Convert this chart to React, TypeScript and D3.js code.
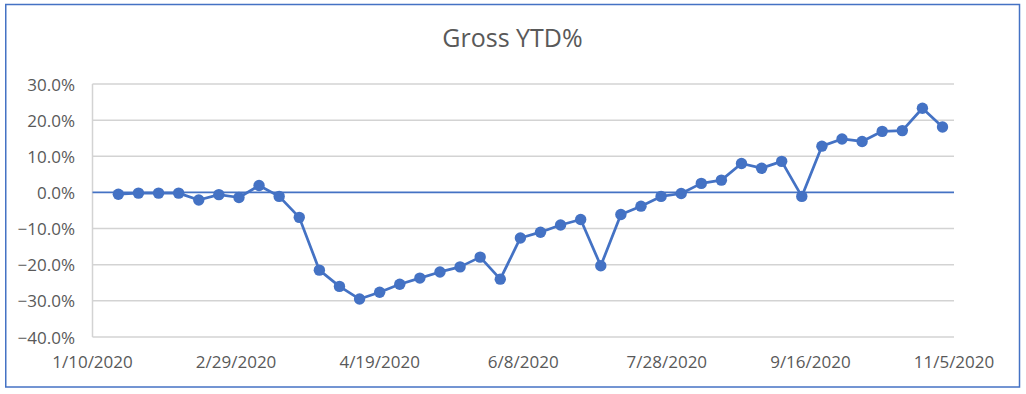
import React from 'react';
import * as d3 from 'd3';

// weekly observations (Sundays)
const dates = [
  '2020-01-19', '2020-01-26', '2020-02-02', '2020-02-09', '2020-02-16', '2020-02-23',
  '2020-03-01', '2020-03-08', '2020-03-15', '2020-03-22', '2020-03-29', '2020-04-05',
  '2020-04-12', '2020-04-19', '2020-04-26', '2020-05-03', '2020-05-10', '2020-05-17',
  '2020-05-24', '2020-05-31', '2020-06-07', '2020-06-14', '2020-06-21', '2020-06-28',
  '2020-07-05', '2020-07-12', '2020-07-19', '2020-07-26', '2020-08-02', '2020-08-09',
  '2020-08-16', '2020-08-23', '2020-08-30', '2020-09-06', '2020-09-13', '2020-09-20',
  '2020-09-27', '2020-10-04', '2020-10-11', '2020-10-18', '2020-10-25', '2020-11-01',
];

const grossYtd = [
  -0.005, -0.002, -0.002, -0.002, -0.021, -0.006, -0.014, 0.019, -0.011, -0.069,
  -0.215, -0.26, -0.295, -0.276, -0.254, -0.237, -0.22, -0.206, -0.179, -0.24,
  -0.126, -0.11, -0.09, -0.075, -0.203, -0.061, -0.038, -0.011, -0.003, 0.025,
  0.034, 0.08, 0.067, 0.086, -0.011, 0.128, 0.148, 0.141, 0.169, 0.171,
  0.233, 0.181,
];

const xTicks = ['2020-01-10', '2020-02-29', '2020-04-19', '2020-06-08', '2020-07-28', '2020-09-16', '2020-11-05'];
const yTicks = [-0.4, -0.3, -0.2, -0.1, 0, 0.1, 0.2, 0.3];

const W = 1026;
const H = 394;
const BLUE = '#4472C4';
const GREY_TEXT = '#595959';
const FONT = '"Open Sans", sans-serif';

const parse = d3.utcParse('%Y-%m-%d');
const fmtDate = (d: Date) => `${d.getUTCMonth() + 1}/${d.getUTCDate()}/${d.getUTCFullYear()}`;
const fmtPct = d3.format('.1%');

export default function App() {
  const x = d3
    .scaleUtc()
    .domain([parse(xTicks[0])!, parse(xTicks[xTicks.length - 1])!])
    .range([92.5, 954]);
  const y = d3.scaleLinear().domain([-0.4, 0.3]).range([337, 84]);

  const points = dates.map((d, i) => ({date: parse(d)!, value: grossYtd[i]}));
  const line = d3
    .line<{date: Date; value: number}>()
    .x(d => x(d.date))
    .y(d => y(d.value));

  const [x0, x1] = x.range();

  return (
    <svg
      width={W}
      height={H}
      style={{position: 'absolute', left: 0, top: 0, background: '#fff'}}
      fontFamily={FONT}
    >
      <rect x={0} y={0} width={W} height={H} fill="#fff" />
      <rect x={5.75} y={4.5} width={1013.75} height={382.5} fill="none" stroke={BLUE} strokeWidth={1.5} />

      <text x={512.5} y={47} textAnchor="middle" fontSize={25} fill={GREY_TEXT}>
        Gross YTD%
      </text>

      {/* gridlines */}
      {yTicks.filter(t => t !== 0).map(t => (
        <line key={t} x1={x0} x2={x1} y1={y(t)} y2={y(t)} stroke="#D3D3D3" strokeWidth={1.5} />
      ))}
      <line x1={x0} x2={x0} y1={y(0.3)} y2={y(-0.4)} stroke="#D3D3D3" strokeWidth={1.5} />
      <line x1={x0} x2={x1} y1={y(0)} y2={y(0)} stroke={BLUE} strokeWidth={1.7} />

      {/* y labels */}
      {yTicks.map(t => (
        <text
          key={t}
          x={75}
          y={y(t) + 2}
          textAnchor="end"
          dominantBaseline="middle"
          fontSize={17}
          fill={GREY_TEXT}
        >
          {fmtPct(t)}
        </text>
      ))}

      {/* x labels */}
      {xTicks.map(t => (
        <text key={t} x={x(parse(t)!)} y={368} textAnchor="middle" fontSize={17} fill={GREY_TEXT}>
          {fmtDate(parse(t)!)}
        </text>
      ))}

      <path d={line(points) || ''} fill="none" stroke={BLUE} strokeWidth={2.75} strokeLinejoin="round" />
      {points.map((p, i) => (
        <circle key={i} cx={x(p.date)} cy={y(p.value)} r={5.7} fill={BLUE} />
      ))}
    </svg>
  );
}
